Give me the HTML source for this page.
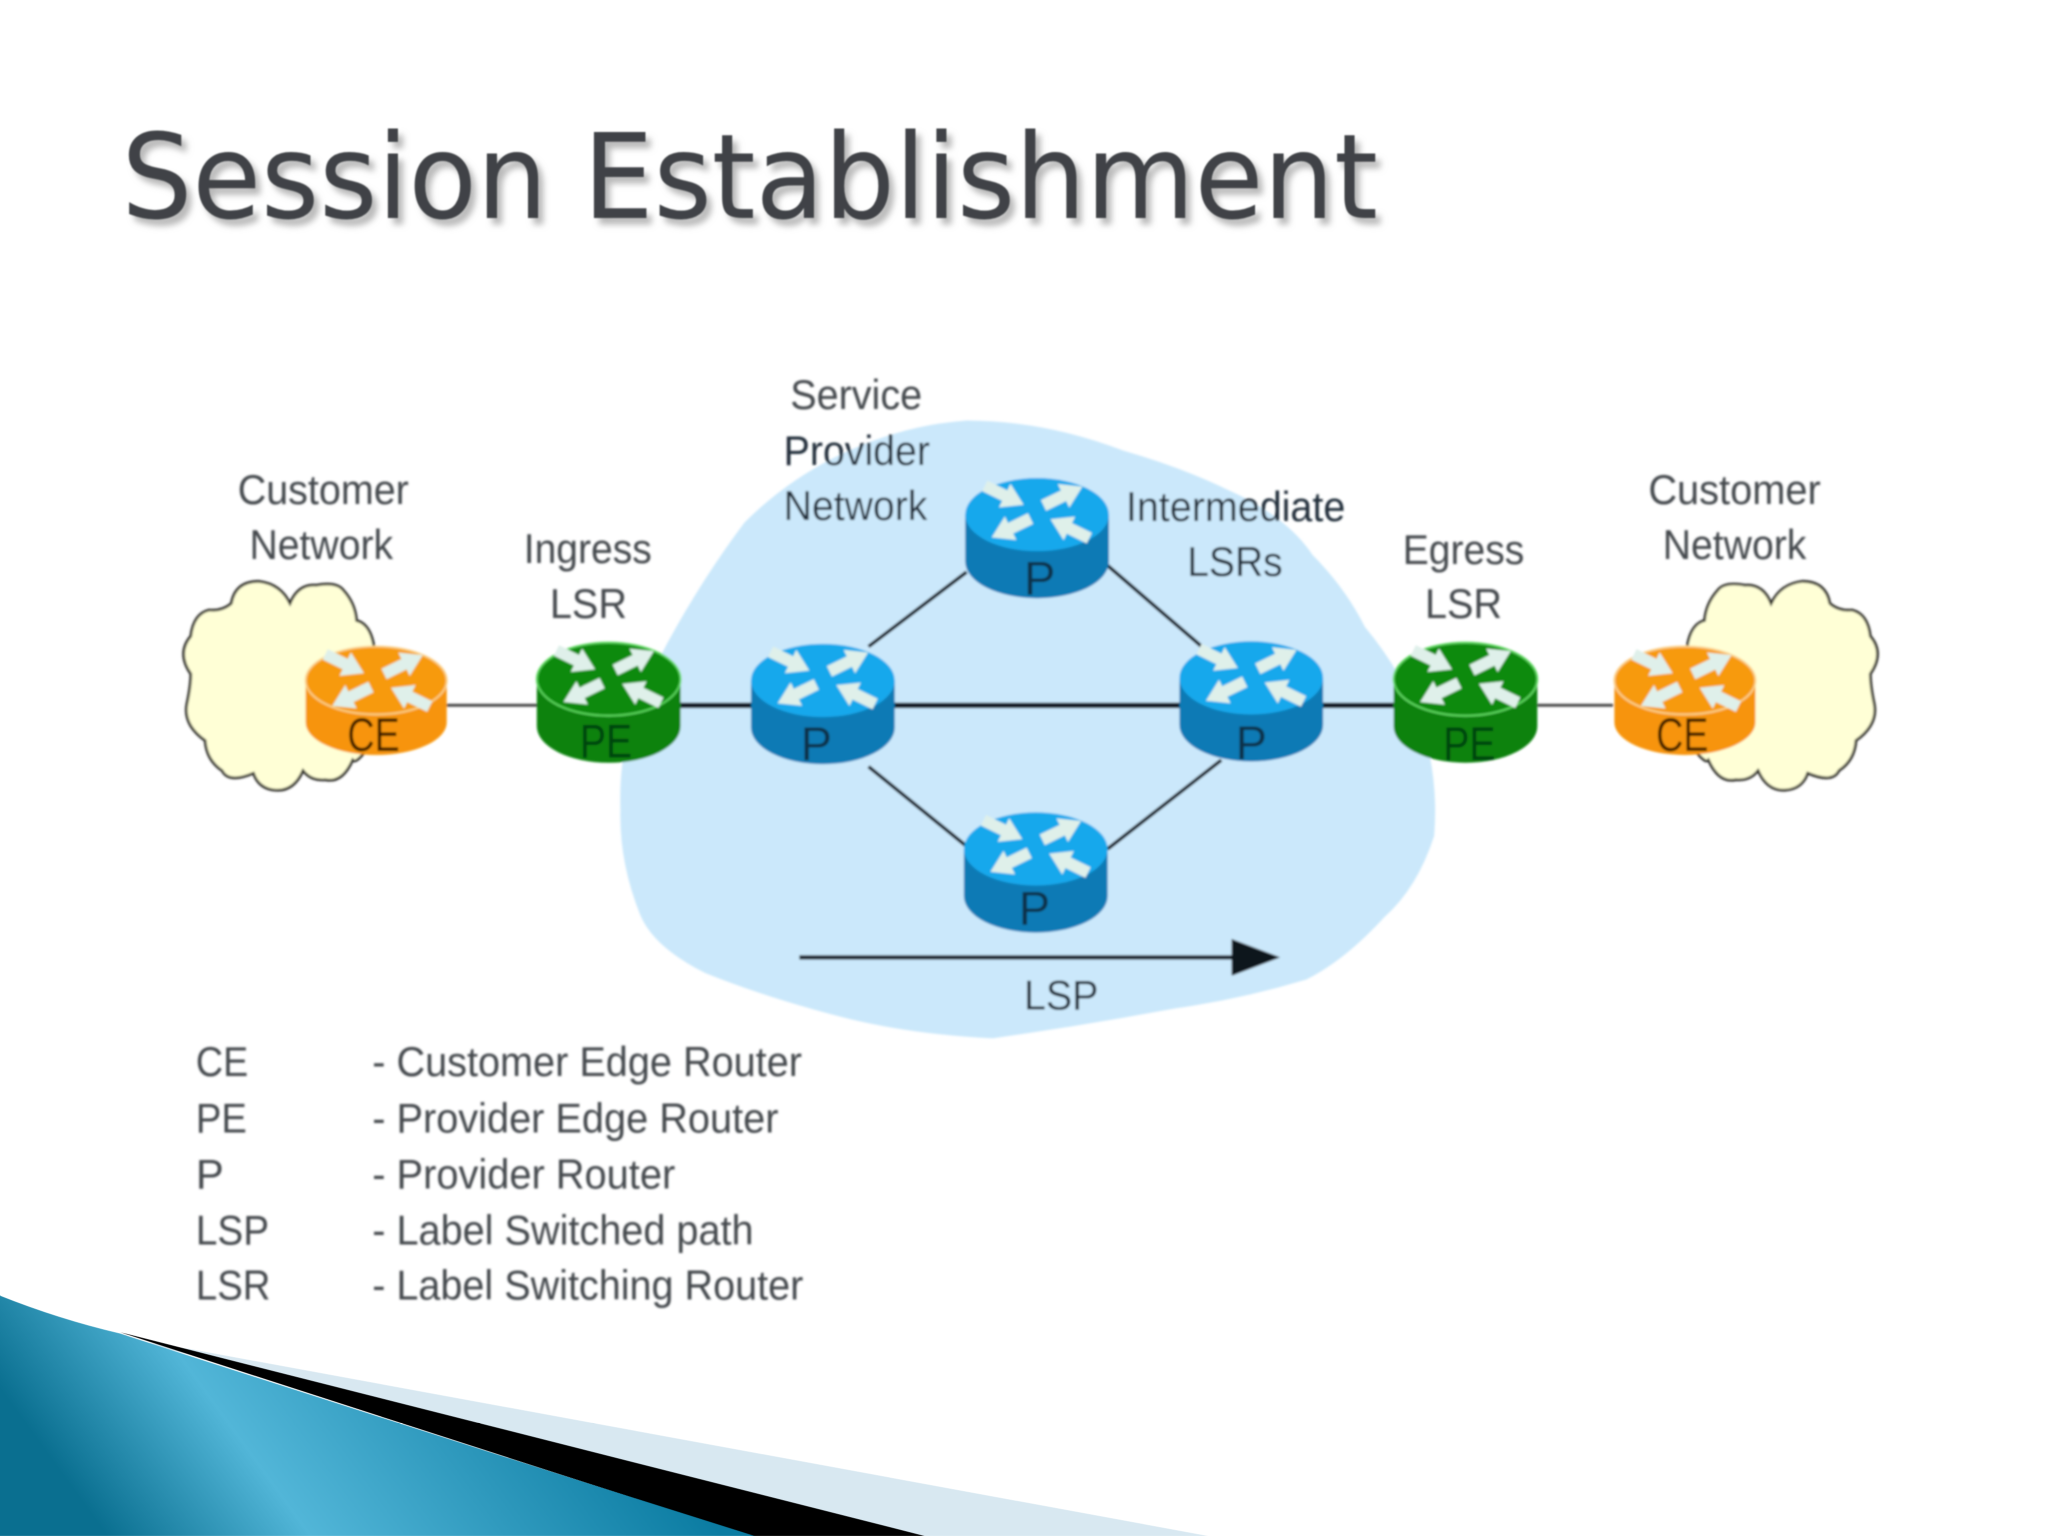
<!DOCTYPE html>
<html><head><meta charset="utf-8"><title>Session Establishment</title>
<style>
html,body{margin:0;padding:0;background:#fff;width:2048px;height:1536px;overflow:hidden}
svg{display:block}
text{font-family:"Liberation Sans",sans-serif;fill:#44494e}
.t{font-size:32px}
.r{font-size:36px;fill:#0e3048}
</style></head><body>
<svg xmlns="http://www.w3.org/2000/svg" width="2048" height="1536" viewBox="0 0 1568 1176">
<defs>
<linearGradient id="teal" gradientUnits="userSpaceOnUse" x1="132" y1="1245" x2="441" y2="1020">
<stop offset="0" stop-color="#0a6f90"/><stop offset=".33" stop-color="#52b6d8"/><stop offset="1" stop-color="#0b7ca2"/>
</linearGradient>
<filter id="b" x="-5%" y="-5%" width="110%" height="110%"><feGaussianBlur stdDeviation="0.8"/></filter>
<filter id="tb" x="-5%" y="-20%" width="110%" height="140%"><feGaussianBlur stdDeviation="0.6"/></filter>
<filter id="sb" x="-5%" y="-20%" width="110%" height="140%"><feGaussianBlur stdDeviation="2.5"/></filter>
<path id="ar" d="M0,-4.5 H17 V-10 L33,0 L17,10 V4.5 H0 Z"/>
<g id="arrows" fill="#dff0ea">
<use href="#ar" transform="translate(15,6) rotate(26)"/>
<use href="#ar" transform="translate(95,46) rotate(206)"/>
<use href="#ar" transform="translate(60,21) rotate(-26)"/>
<use href="#ar" transform="translate(50,31) rotate(154)"/>
</g>
<g id="rb"><path d="M0,28 V64 A55,28 0 0 0 110,64 V28 Z" fill="#0f7ab5"/><ellipse cx="55" cy="28" rx="55" ry="28" fill="#19a8ec"/><use href="#arrows"/></g>
<g id="rg"><path d="M0,28 V64 A55,28 0 0 0 110,64 V28 Z" fill="#0a820f"/><ellipse cx="55" cy="28" rx="55" ry="28" fill="#078a0a" stroke="#5fd860" stroke-width="1.5"/><use href="#arrows"/></g>
<g id="ro"><path d="M0,26 V58 A54,25 0 0 0 108,58 V26 Z" fill="#f79408"/><ellipse cx="54" cy="26" rx="54" ry="26" fill="#f79a10" stroke="#fbd08a" stroke-width="1.5"/><use href="#arrows"/></g>
<path id="cloud" fill="#ffffd6" stroke="#2c2c26" stroke-width="2" d="M177,462 Q180,445 198,445 Q215,447 222,462 Q228,447 242,448 Q258,445 263,452 Q272,462 273,475 Q285,478 287,500 L280,575 Q272,585 270,582 Q262,600 249,597 Q238,598 232,590 Q225,606 211,605 Q198,604 194,592 Q175,600 170,590 Q158,582 157,567 Q140,555 143,539 Q146,525 146,516 Q135,500 146,487 Q148,470 160,467 Q170,468 177,462Z"/>
</defs>

<!-- title -->
<text x="97" y="172" font-size="90" textLength="962" lengthAdjust="spacingAndGlyphs" style="font-family:'DejaVu Sans',sans-serif;fill:#b8b8b8" filter="url(#sb)">Session Establishment</text>
<text x="93" y="167" font-size="90" textLength="962" lengthAdjust="spacingAndGlyphs" style="font-family:'DejaVu Sans',sans-serif;fill:#404346" filter="url(#tb)">Session Establishment</text>

<g filter="url(#b)">
<!-- provider network -->
<path fill="#cbe8fb" d="M740,322 Q800,322 860,345 Q905,358 940,375 Q985,395 1005,425 Q1030,450 1045,480 Q1070,510 1085,545 Q1102,590 1098,640 Q1085,680 1060,702 Q1030,735 1000,750 Q950,765 900,772 Q830,785 760,795 Q700,792 650,780 Q590,765 540,745 Q500,725 490,700 Q474,660 475,620 Q474,590 480,565 Q495,520 515,485 Q540,440 570,400 Q605,365 650,345 Q695,325 740,322Z"/>
<use href="#cloud"/>
<use href="#cloud" transform="translate(1578,0) scale(-1,1)"/>

<!-- links -->
<g stroke="#101820" fill="none">
<path d="M342,540 H411 M1177,540 H1235" stroke-width="2.2" stroke="#444"/>
<path d="M521,540 H1067" stroke-width="4"/>
<path d="M665,495 L740,438 M848,433 L920,495 M665,587 L745,652 M848,650 L935,582" stroke-width="2.6"/>
<path d="M612,733 H950" stroke-width="3.2"/>
</g>
<polygon points="943,719 980,733 943,747" fill="#10141c"/>

<!-- routers -->
<use href="#ro" x="234" y="495"/>
<use href="#rg" x="411" y="492"/>
<use href="#rb" x="575" y="493"/>
<use href="#rb" x="739" y="366"/>
<use href="#rb" x="903" y="491"/>
<use href="#rg" x="1067" y="492"/>
<use href="#ro" x="1236" y="495"/>
<use href="#rb" x="738" y="622"/>

<!-- router labels -->
<text class="r" x="266" y="575" textLength="40" lengthAdjust="spacingAndGlyphs" style="fill:#3c1c02">CE</text>
<text class="r" x="444" y="580" textLength="40" lengthAdjust="spacingAndGlyphs" style="fill:#05420d">PE</text>
<text class="r" x="613" y="582">P</text>
<text class="r" x="784" y="455">P</text>
<text class="r" x="946" y="581">P</text>
<text class="r" x="1105" y="582" textLength="40" lengthAdjust="spacingAndGlyphs" style="fill:#05420d">PE</text>
<text class="r" x="1268" y="575" textLength="40" lengthAdjust="spacingAndGlyphs" style="fill:#3c1c02">CE</text>
<text class="r" x="780" y="708">P</text>

<!-- labels -->
<text class="t" x="605" y="313" textLength="101" lengthAdjust="spacingAndGlyphs">Service</text>
<text class="t" x="600" y="356" textLength="112" lengthAdjust="spacingAndGlyphs" style="fill:#202e3a">Provider</text>
<text class="t" x="600" y="398" textLength="110" lengthAdjust="spacingAndGlyphs" style="fill:#202e3a">Network</text>
<text class="t" x="182" y="386" textLength="131" lengthAdjust="spacingAndGlyphs">Customer</text>
<text class="t" x="191" y="428" textLength="110" lengthAdjust="spacingAndGlyphs">Network</text>
<text class="t" x="401" y="431" textLength="98" lengthAdjust="spacingAndGlyphs">Ingress</text>
<text class="t" x="421" y="473" textLength="59" lengthAdjust="spacingAndGlyphs">LSR</text>
<text class="t" x="862" y="399" textLength="168" lengthAdjust="spacingAndGlyphs" style="fill:#202e3a">Intermediate</text>
<text class="t" x="909" y="441" textLength="73" lengthAdjust="spacingAndGlyphs" style="fill:#202e3a">LSRs</text>
<text class="t" x="1074" y="432" textLength="93" lengthAdjust="spacingAndGlyphs">Egress</text>
<text class="t" x="1091" y="473" textLength="59" lengthAdjust="spacingAndGlyphs">LSR</text>
<text class="t" x="1262" y="386" textLength="132" lengthAdjust="spacingAndGlyphs">Customer</text>
<text class="t" x="1273" y="428" textLength="110" lengthAdjust="spacingAndGlyphs">Network</text>
<text class="t" x="784" y="773" textLength="57" lengthAdjust="spacingAndGlyphs" style="fill:#202e3a">LSP</text>

<!-- legend -->
<text class="t" x="150" y="824" textLength="40" lengthAdjust="spacingAndGlyphs">CE</text>
<text class="t" x="285" y="824" textLength="329" lengthAdjust="spacingAndGlyphs">- Customer Edge Router</text>
<text class="t" x="150" y="867" textLength="39" lengthAdjust="spacingAndGlyphs">PE</text>
<text class="t" x="285" y="867" textLength="311" lengthAdjust="spacingAndGlyphs">- Provider Edge Router</text>
<text class="t" x="150" y="910">P</text>
<text class="t" x="285" y="910" textLength="232" lengthAdjust="spacingAndGlyphs">- Provider Router</text>
<text class="t" x="150" y="953" textLength="56" lengthAdjust="spacingAndGlyphs">LSP</text>
<text class="t" x="285" y="953" textLength="292" lengthAdjust="spacingAndGlyphs">- Label Switched path</text>
<text class="t" x="150" y="995" textLength="57" lengthAdjust="spacingAndGlyphs">LSR</text>
<text class="t" x="285" y="995" textLength="330" lengthAdjust="spacingAndGlyphs">- Label Switching Router</text>
</g>

<!-- corner swoosh -->
<polygon points="146,1033 925,1176 708,1176 100,1026" fill="#d8e8f1"/>
<polygon points="92,1020 708,1176 575,1176" fill="#000"/>
<path d="M0,992 Q45,1010 92,1021 Q330,1098 578,1176 H0 Z" fill="url(#teal)"/>
</svg>
</body></html>
